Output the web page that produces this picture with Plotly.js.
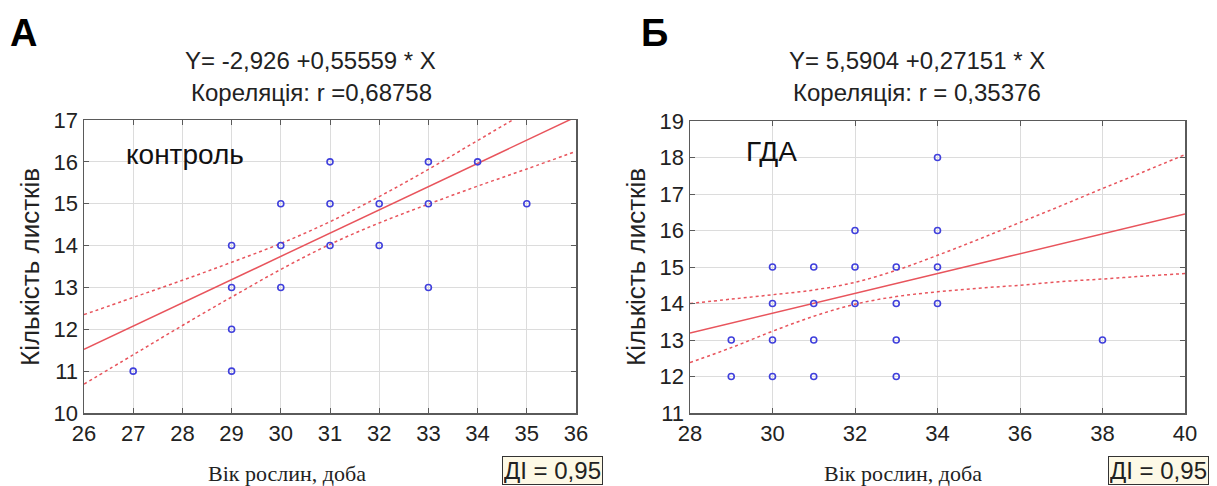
<!DOCTYPE html>
<html>
<head>
<meta charset="utf-8">
<script src="https://cdn.plot.ly/plotly-3.0.1.min.js"></script>
<style>html,body{margin:0;padding:0;background:#fff;} #chart{width:1217px;height:486px;}</style>
</head>
<body>
<div id="chart"></div>
<script>
// ---- data ----
const ctrlX = [27,29,29,29,29,30,30,30,31,31,31,32,32,33,33,33,34,35];
const ctrlY = [11,14,13,12,11,15,14,13,16,15,14,15,14,16,15,13,16,15];
const ctrlCoef = [-2.926, 0.55559];
const ctrlBandX = [26,27,28,29,30,31,32,33,34,35,36];
const ctrlUpper = [12.35,12.76,13.17,13.60,14.05,14.57,15.17,15.82,16.51,17.20,17.91];
const ctrlLower = [10.69,11.39,12.09,12.77,13.43,14.03,14.54,14.99,15.42,15.83,16.25];

const gdaX = [29,29,30,30,30,30,31,31,31,31,32,32,32,33,33,33,33,34,34,34,34,38];
const gdaY = [13,12,15,14,13,12,15,14,13,12,16,15,14,15,14,13,12,18,16,15,14,13];
const gdaCoef = [5.5904, 0.27151];
const gdaBandX = [28,29,30,31,32,33,34,35,36,37,38,39,40];
const gdaUpper = [14.00,14.12,14.24,14.37,14.58,14.91,15.32,15.76,16.22,16.68,17.15,17.61,18.08];
const gdaLower = [12.38,12.79,13.24,13.65,13.98,14.19,14.32,14.42,14.50,14.60,14.67,14.75,14.82];

const ctrlTitle1 = "Y= -2,926 +0,55559 * X";
const ctrlTitle2 = "Кореляція: r =0,68758";
const gdaTitle1 = "Y= 5,5904 +0,27151 * X";
const gdaTitle2 = "Кореляція: r = 0,35376";
const yTitle = "Кількість листків";
const xTitle = "Вік рослин, доба";
const ciText = "ДІ = 0,95";

// ---- layout helpers ----
const W = 1217, H = 486;
const px = v => v / W;
const py = v => 1 - v / H;
const SANS = "Liberation Sans, Arial, sans-serif";
const SERIF = "Liberation Serif, Times New Roman, serif";
const RED = "#e8545c";
const BLUE = "#4040dc";

function fitLine(coef, xs) { return xs.map(x => coef[0] + coef[1] * x); }

function traces(xs, ys, coef, bx, up, lo, xa, ya) {
  return [
    {x: bx, y: up, mode: "lines", line: {color: RED, width: 1.5, dash: "dot", shape: "spline"}, xaxis: xa, yaxis: ya, hoverinfo: "skip"},
    {x: bx, y: lo, mode: "lines", line: {color: RED, width: 1.5, dash: "dot", shape: "spline"}, xaxis: xa, yaxis: ya, hoverinfo: "skip"},
    {x: bx, y: fitLine(coef, bx), mode: "lines", line: {color: RED, width: 1.5}, xaxis: xa, yaxis: ya},
    {x: xs, y: ys, mode: "markers", marker: {symbol: "circle-open", size: 6, color: BLUE, line: {width: 1.6, color: BLUE}}, xaxis: xa, yaxis: ya, cliponaxis: false}
  ];
}

const data = [
  ...traces(ctrlX, ctrlY, ctrlCoef, ctrlBandX, ctrlUpper, ctrlLower, "x", "y"),
  ...traces(gdaX, gdaY, gdaCoef, gdaBandX, gdaUpper, gdaLower, "x2", "y2")
];

const axBase = {
  showgrid: true, gridcolor: "#dcdcdc", gridwidth: 1,
  showline: true, linecolor: "#5a5a5a", linewidth: 1.5, mirror: "ticks",
  ticks: "inside", ticklen: 5, tickcolor: "#5a5a5a", tickwidth: 1,
  zeroline: false, fixedrange: true,
  tickfont: {family: SANS, size: 22, color: "#222"}
};

const layout = {
  width: W, height: H,
  margin: {l: 0, r: 0, t: 0, b: 0},
  paper_bgcolor: "#fff", plot_bgcolor: "#fff",
  showlegend: false,
  xaxis: Object.assign({}, axBase, {domain: [px(84), px(576)], range: [26, 36], dtick: 1, anchor: "y"}),
  yaxis: Object.assign({}, axBase, {domain: [py(413), py(120)], range: [10, 17], dtick: 1, anchor: "x"}),
  xaxis2: Object.assign({}, axBase, {domain: [px(690), px(1185)], range: [28, 40], dtick: 2, anchor: "y2"}),
  yaxis2: Object.assign({}, axBase, {domain: [py(413), py(121)], range: [11, 19], dtick: 1, anchor: "x2"}),
  annotations: [
    {text: "<b>А</b>", x: px(8), y: py(33), xanchor: "left", yanchor: "middle", showarrow: false, xref: "paper", yref: "paper", font: {family: SANS, size: 38, color: "#000"}},
    {text: "<b>Б</b>", x: px(639), y: py(33), xanchor: "left", yanchor: "middle", showarrow: false, xref: "paper", yref: "paper", font: {family: SANS, size: 38, color: "#000"}},
    {text: ctrlTitle1, x: px(310), y: py(60), xanchor: "center", yanchor: "middle", showarrow: false, xref: "paper", yref: "paper", font: {family: SANS, size: 24, color: "#222"}},
    {text: ctrlTitle2, x: px(311), y: py(92), xanchor: "center", yanchor: "middle", showarrow: false, xref: "paper", yref: "paper", font: {family: SANS, size: 24, color: "#222"}},
    {text: gdaTitle1, x: px(917), y: py(60), xanchor: "center", yanchor: "middle", showarrow: false, xref: "paper", yref: "paper", font: {family: SANS, size: 24, color: "#222"}},
    {text: gdaTitle2, x: px(917), y: py(92), xanchor: "center", yanchor: "middle", showarrow: false, xref: "paper", yref: "paper", font: {family: SANS, size: 24, color: "#222"}},
    {text: "контроль", x: px(124), y: py(154), xanchor: "left", yanchor: "middle", showarrow: false, xref: "paper", yref: "paper", font: {family: SANS, size: 28, color: "#111"}},
    {text: "ГДА", x: px(744), y: py(151), xanchor: "left", yanchor: "middle", showarrow: false, xref: "paper", yref: "paper", font: {family: SANS, size: 28, color: "#111"}},
    {text: yTitle, x: px(30), y: py(267), xanchor: "center", yanchor: "middle", textangle: -90, showarrow: false, xref: "paper", yref: "paper", font: {family: SANS, size: 26, color: "#222"}},
    {text: yTitle, x: px(636), y: py(267), xanchor: "center", yanchor: "middle", textangle: -90, showarrow: false, xref: "paper", yref: "paper", font: {family: SANS, size: 26, color: "#222"}},
    {text: xTitle, x: px(287), y: py(473), xanchor: "center", yanchor: "middle", showarrow: false, xref: "paper", yref: "paper", font: {family: SERIF, size: 22, color: "#222"}},
    {text: xTitle, x: px(903), y: py(473), xanchor: "center", yanchor: "middle", showarrow: false, xref: "paper", yref: "paper", font: {family: SERIF, size: 22, color: "#222"}},
    {text: ciText, x: px(502), y: py(470.5), xanchor: "left", yanchor: "middle", showarrow: false, xref: "paper", yref: "paper", height: 25, font: {family: SANS, size: 24, color: "#222"}, bgcolor: "#fdf9e6", bordercolor: "#333", borderwidth: 1, borderpad: 1},
    {text: ciText, x: px(1108), y: py(470.5), xanchor: "left", yanchor: "middle", showarrow: false, xref: "paper", yref: "paper", height: 25, font: {family: SANS, size: 24, color: "#222"}, bgcolor: "#fdf9e6", bordercolor: "#333", borderwidth: 1, borderpad: 1}
  ]
};

Plotly.newPlot("chart", data, layout, {staticPlot: true, displayModeBar: false});
</script>
</body>
</html>
